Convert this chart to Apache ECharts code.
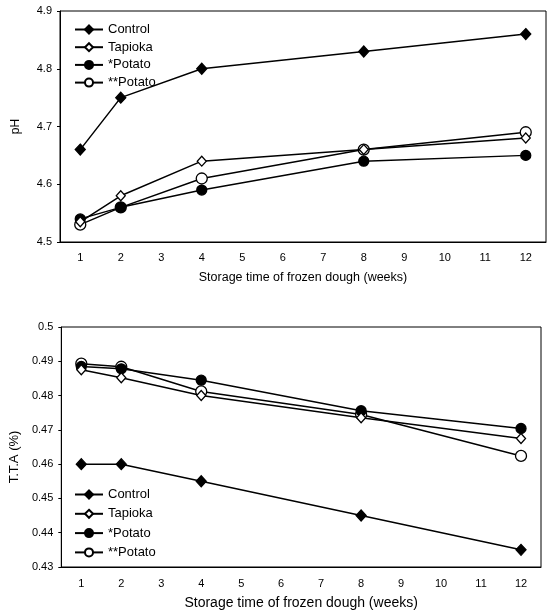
<!DOCTYPE html>
<html>
<head>
<meta charset="utf-8">
<script src="https://cdn.jsdelivr.net/npm/echarts@6/dist/echarts.min.js"></script>
<style>
html, body { margin: 0; padding: 0; background: #fff; }
#chart { width: 547px; height: 614px; }
</style>
</head>
<body>
<div id="chart"></div>
<script>
// storage weeks
var weekLabels = ['1', '2', '3', '4', '5', '6', '7', '8', '9', '10', '11', '12'];
var weeks = [1, 2, 4, 8, 12];
var names = ['Control', 'Tapioka', '*Potato', '**Potato'];

// pH
var phControl = [4.66, 4.75, 4.80, 4.83, 4.86];
var phTapioka = [4.535, 4.58, 4.64, 4.66, 4.68];
var phPotato1 = [4.54, 4.56, 4.59, 4.64, 4.65];
var phPotato2 = [4.53, 4.56, 4.61, 4.66, 4.69];

// T.T.A (%)
var ttaControl = [0.460, 0.460, 0.455, 0.445, 0.435];
var ttaTapioka = [0.4875, 0.4852, 0.4800, 0.4735, 0.4675];
var ttaPotato1 = [0.4885, 0.4878, 0.4845, 0.4756, 0.4704];
var ttaPotato2 = [0.4893, 0.4884, 0.4812, 0.4745, 0.4624];

function pairs(vals) {
	var out = [];
	for (var i = 0; i < weeks.length; i++) {
		out.push([weeks[i] - 1, vals[i]]);
	}
	return out;
}

// marker look per series
var marks = [
	{ symbol: 'diamond', size: [10, 11], fill: '#000' },
	{ symbol: 'diamond', size: [9, 10], fill: '#fff' },
	{ symbol: 'circle', size: 10, fill: '#000' },
	{ symbol: 'circle', size: 11, fill: '#fff' }
];

function makeSeries(idx, vals, k) {
	return {
		name: names[k],
		type: 'line',
		xAxisIndex: idx,
		yAxisIndex: idx,
		data: pairs(vals),
		symbol: marks[k].symbol,
		symbolSize: marks[k].size,
		showAllSymbol: true,
		lineStyle: { color: '#000', width: 1.5 },
		itemStyle: { color: marks[k].fill, borderColor: '#000', borderWidth: 1.3 },
		z: 10 - k
	};
}

var dom = document.getElementById('chart');
var myChart = echarts.init(dom);
var option = {
	animation: false,
	backgroundColor: '#fff',
	grid: [
		{ left: 60, right: 1, top: 11, height: 231, show: true, borderColor: '#000', borderWidth: 1 },
		{ left: 58, right: 6, top: 327, height: 240, show: true, borderColor: '#000', borderWidth: 1 }
	],
	legend: [{
		// white box hides the Control line behind it, as in the scan
		orient: 'vertical',
		left: 69,
		top: 18,
		padding: [5, 5, 2, 5],
		backgroundColor: '#fff',
		itemWidth: 28,
		itemHeight: 10,
		itemGap: 4.7,
		data: names,
		textStyle: { color: '#000', fontFamily: 'Liberation Sans', fontSize: 13 }
	}, {
		orient: 'vertical',
		left: 69,
		top: 483,
		itemWidth: 28,
		itemHeight: 10,
		itemGap: 6.3,
		data: names,
		textStyle: { color: '#000', fontFamily: 'Liberation Sans', fontSize: 13 }
	}],
	xAxis: [{
		gridIndex: 0,
		type: 'category',
		data: weekLabels,
		boundaryGap: true,
		name: 'Storage time of frozen dough (weeks)',
		nameLocation: 'middle',
		nameGap: 29,
		nameTextStyle: { color: '#000', fontFamily: 'Liberation Sans', fontSize: 12.5 },
		axisLine: { lineStyle: { color: '#000', width: 1 } },
		axisTick: { show: false },
		axisLabel: { margin: 10, color: '#000', fontFamily: 'Liberation Sans', fontSize: 11 },
		splitLine: { show: false }
	}, {
		gridIndex: 1,
		type: 'category',
		data: weekLabels,
		boundaryGap: true,
		name: 'Storage time of frozen dough (weeks)',
		nameLocation: 'middle',
		nameGap: 29,
		nameTextStyle: { color: '#000', fontFamily: 'Liberation Sans', fontSize: 14 },
		axisLine: { lineStyle: { color: '#000', width: 1 } },
		axisTick: { show: false },
		axisLabel: { margin: 11, color: '#000', fontFamily: 'Liberation Sans', fontSize: 11 },
		splitLine: { show: false }
	}],
	yAxis: [{
		gridIndex: 0,
		type: 'value',
		min: 4.5,
		max: 4.9,
		interval: 0.1,
		name: 'pH',
		nameLocation: 'middle',
		nameGap: 38,
		nameTextStyle: { color: '#000', fontFamily: 'Liberation Sans', fontSize: 12 },
		axisLine: { show: true, lineStyle: { color: '#000', width: 1 } },
		axisTick: { show: true, length: 3, lineStyle: { color: '#000' } },
		axisLabel: { margin: 8, color: '#000', fontFamily: 'Liberation Sans', fontSize: 11 },
		splitLine: { show: false }
	}, {
		gridIndex: 1,
		type: 'value',
		min: 0.43,
		max: 0.5,
		interval: 0.01,
		name: 'T.T.A (%)',
		nameLocation: 'middle',
		nameGap: 40,
		nameTextStyle: { color: '#000', fontFamily: 'Liberation Sans', fontSize: 13, padding: [0, 20, 0, 0] },
		axisLine: { show: true, lineStyle: { color: '#000', width: 1 } },
		axisTick: { show: true, length: 3, lineStyle: { color: '#000' } },
		axisLabel: { margin: 8, color: '#000', fontFamily: 'Liberation Sans', fontSize: 11 },
		splitLine: { show: false }
	}],
	series: [
		makeSeries(0, phControl, 0),
		makeSeries(0, phTapioka, 1),
		makeSeries(0, phPotato1, 2),
		makeSeries(0, phPotato2, 3),
		makeSeries(1, ttaControl, 0),
		makeSeries(1, ttaTapioka, 1),
		makeSeries(1, ttaPotato1, 2),
		makeSeries(1, ttaPotato2, 3)
	]
};
myChart.setOption(option);
</script>
</body>
</html>
